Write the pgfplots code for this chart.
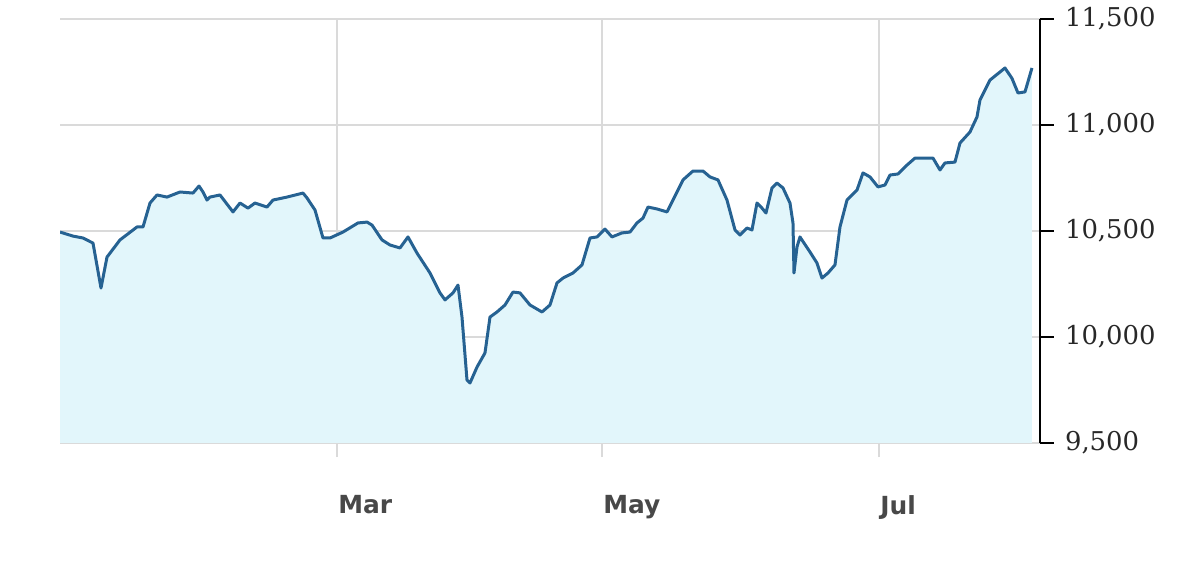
\documentclass[border=0pt]{standalone}
\usepackage{fontspec}
\usepackage{pgfplots}
\pgfplotsset{compat=1.18}
\newfontfamily\yfont{DejaVu Serif}
\newfontfamily\xfont{DejaVu Sans}
\definecolor{linec}{RGB}{38,98,146}
\definecolor{areac}{RGB}{226,246,251}
\definecolor{gridc}{RGB}{218,218,218}
\definecolor{labc}{RGB}{40,40,40}

\pgfplotstableread{
x y
60 10495
73 10476
83 10467
93 10443
101 10231
107 10377
120 10458
137 10519
143 10519
150 10632
157 10670
167 10660
180 10684
193 10679
199 10712
203 10684
207 10646
210 10660
220 10670
233 10590
240 10632
248 10608
255 10632
267 10613
273 10646
287 10660
303 10679
307 10656
315 10599
323 10467
330 10467
343 10495
358 10538
367 10542
372 10528
382 10458
390 10434
400 10420
408 10472
417 10396
430 10302
440 10208
445 10175
453 10208
458 10245
462 10094
467 9797
470 9783
477 9858
485 9925
490 10094
497 10118
505 10151
513 10212
520 10208
530 10151
542 10118
550 10151
557 10255
563 10278
573 10302
582 10340
590 10467
597 10472
605 10509
612 10472
622 10491
630 10495
637 10538
643 10561
648 10613
657 10604
667 10590
673 10646
683 10741
693 10783
703 10783
710 10755
718 10741
727 10646
735 10505
740 10481
747 10514
752 10505
757 10632
762 10608
766 10585
772 10703
777 10726
783 10703
790 10632
793 10538
794 10302
797 10425
800 10472
810 10401
817 10349
822 10278
828 10302
835 10340
840 10519
847 10646
857 10693
863 10774
870 10755
878 10708
885 10717
890 10764
898 10769
907 10811
915 10844
933 10844
940 10788
945 10821
955 10825
960 10915
970 10967
977 11038
980 11118
990 11212
1000 11250
1005 11269
1012 11220
1018 11151
1025 11156
1032 11269
}\datatable

\begin{document}
\begin{tikzpicture}
\path[use as bounding box] (-30bp,-61.5bp) rectangle (570bp,221.5bp);
\begin{axis}[
    at={(0,0)}, anchor=south west,
    scale only axis,
    width=490bp, height=212bp,
    xmin=60, xmax=1040,
    ymin=9500, ymax=11500,
    axis x line*=bottom,
    axis y line*=right,
    x axis line style={draw=none},
    y axis line style={black, line width=1bp},
    xtick={337,602,879},
    xticklabels={Mar,May,Jul},
    ytick={9500,10000,10500,11000,11500},
    scaled y ticks=false,
    tick align=outside,
    major tick length=7bp,
    xtick style={gridc, line width=0.6bp},
    ytick style={black, line width=1bp},
    grid=major,
    major grid style={gridc, line width=0.6bp},
    /pgf/number format/fixed,
    /pgf/number format/assume math mode=true,
    /pgf/number format/1000 sep={,},
    yticklabel style={font=\yfont\fontsize{13}{15}\selectfont, text=labc, anchor=west, xshift=2bp},
    xticklabel style={font=\xfont\bfseries\fontsize{12.5}{14}\selectfont, text=labc!85, anchor=north west, inner sep=0pt, xshift=0.5bp, yshift=-19bp},
]
\addplot[fill=areac, draw=none] table[x=x, y=y] {\datatable} \closedcycle;
\addplot[linec, line width=1.5bp, line join=round] table[x=x, y=y] {\datatable};
\end{axis}
\end{tikzpicture}
\end{document}
